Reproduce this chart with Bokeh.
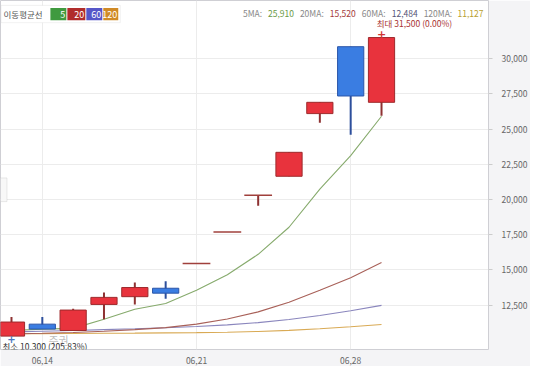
from bokeh.plotting import figure
from bokeh.models import (ColumnDataSource, Range1d, FixedTicker,
                          NumeralTickFormatter, Label, BoxAnnotation)
from bokeh.embed import file_html
from bokeh.resources import INLINE

# ---------------- data ----------------
dates = ["06,13", "06,14", "06,17", "06,18", "06,19", "06,20", "06,21",
         "06,24", "06,25", "06,26", "06,27", "06,28", "07,01"]
opens = [10300, 11150, 10700, 12550, 13100, 13700, 15450, 17700, 20300, 21650, 26100, 30850, 26900]
highs = [11650, 11650, 12250, 13400, 14100, 14200, 15450, 17700, 20300, 23350, 26900, 30850, 31500]
lows = [10300, 10800, 10700, 11500, 12550, 12950, 15450, 17700, 19550, 21650, 25450, 24600, 25950]
closes = [11300, 10800, 12150, 13050, 13750, 13350, 15450, 17700, 20300, 23350, 26900, 27350, 31500]

ma5 = [10700, 10800, 10850, 11500, 12210, 12620, 13550, 14660, 16110, 18030, 20740, 23120, 25910]
ma20 = [10450, 10500, 10560, 10650, 10760, 10900, 11150, 11520, 12020, 12700, 13560, 14450, 15520]
ma60 = [10600, 10650, 10700, 10760, 10820, 10890, 10980, 11100, 11260, 11480, 11760, 12100, 12484]
ma120 = [10470, 10480, 10490, 10500, 10510, 10530, 10550, 10580, 10630, 10710, 10820, 10960, 11127]

tick_dates = ["06,14", "06,21", "06,28"]
y_ticks = [12500, 15000, 17500, 20000, 22500, 25000, 27500, 30000]
ma_names = ["5", "20", "60", "120"]

# ---------------- layout helpers (picture pixel -> data) ----------------
def xd(px):
    return (px - 11) / 30.9

def yd(py):
    return 30000 - (py - 59) * 70.0

KR = "Noto Sans CJK KR"
FS = "8.5px"

idx = list(range(len(dates)))

p = figure(width=530, height=366, output_backend="svg", toolbar_location=None,
           x_range=Range1d(xd(0), xd(489)), y_range=Range1d(yd(354), yd(0)),
           min_border_left=0, min_border_right=41, min_border_top=0,
           min_border_bottom=12, y_axis_location="right")
p.background_fill_color = "white"
p.border_fill_color = "#f4f4f6"
p.outline_line_color = "#cfcfd4"

# axes
p.yaxis.ticker = FixedTicker(ticks=y_ticks)
p.yaxis.formatter = NumeralTickFormatter(format="0,0")
p.yaxis.axis_line_color = None
p.yaxis.major_tick_line_color = "#cccccc"
p.yaxis.major_tick_out = 4
p.yaxis.major_tick_in = 0
p.yaxis.minor_tick_line_color = None
p.yaxis.major_label_text_font_size = FS
p.yaxis.major_label_text_color = "#666666"
p.yaxis.major_label_text_font = KR
p.yaxis.major_label_standoff = 9

tick_idx = [i for i, d in enumerate(dates) if d in tick_dates]
p.xaxis.ticker = FixedTicker(ticks=tick_idx)
p.xaxis.major_label_overrides = {i: dates[i] for i in tick_idx}
p.xaxis.axis_line_color = None
p.xaxis.major_tick_line_color = None
p.xaxis.minor_tick_line_color = None
p.xaxis.major_label_text_font_size = FS
p.xaxis.major_label_text_color = "#666666"
p.xaxis.major_label_text_font = KR
p.xaxis.major_label_standoff = 1

p.xgrid.ticker = FixedTicker(ticks=tick_idx)
p.grid.grid_line_color = "#ececec"

# moving averages (drawn beneath candles)
ma_line_colors = ["#86aa6c", "#a86058", "#8a86bd", "#d9aa55"]
for ser, col in zip([ma120, ma60, ma20, ma5], ma_line_colors[::-1]):
    p.line(idx, ser, line_color=col, line_width=1.1)

# candles
UP_FILL, UP_LINE, UP_WICK = "#e8333d", "#9e2a2c", "#8e3232"
DN_FILL, DN_LINE, DN_WICK = "#3a7de2", "#2a55a8", "#2d4f9c"
body = dict(x=[], top=[], bottom=[], fill=[], line=[])
wick = dict(x=[], hi=[], lo=[], col=[])
doji = dict(x0=[], x1=[], y=[])
for i, (o, h, l, c) in enumerate(zip(opens, highs, lows, closes)):
    up = c >= o
    wick["x"].append(i); wick["hi"].append(h); wick["lo"].append(l)
    wick["col"].append(UP_WICK if up else DN_WICK)
    if o == c:
        doji["x0"].append(i - 0.45); doji["x1"].append(i + 0.45); doji["y"].append(o)
    else:
        body["x"].append(i); body["top"].append(max(o, c)); body["bottom"].append(min(o, c))
        body["fill"].append(UP_FILL if up else DN_FILL)
        body["line"].append(UP_LINE if up else DN_LINE)

p.segment(x0="x", y0="hi", x1="x", y1="lo", line_color="col", line_width=2,
          source=ColumnDataSource(wick))
p.vbar(x="x", width=0.85, top="top", bottom="bottom", fill_color="fill",
       line_color="line", line_width=1, source=ColumnDataSource(body))
p.segment(x0="x0", y0="y", x1="x1", y1="y", line_color="#a0403c", line_width=1.5,
          source=ColumnDataSource(doji))

# max / min annotations
hmax = max(highs); imax = highs.index(hmax)
lmin = min(lows); imin = lows.index(lmin)
last = closes[-1]
p.add_layout(Label(x=imax, y=hmax, y_offset=4, text="+", text_align="center",
                   text_baseline="middle", text_color="#d03535", text_font_size="11px",
                   text_font_style="bold", text_font="DejaVu Sans"))
p.add_layout(Label(x=xd(377), y=yd(23), text=f"최대 {hmax:,} ({(last - hmax) / hmax * 100:.2f}%)",
                   text_align="left", text_baseline="middle", text_color="#a83232",
                   text_font_size=FS, text_font=KR))
p.add_layout(Label(x=imin, y=lmin, y_offset=-3, text="+", text_align="center",
                   text_baseline="middle", text_color="#4a78c0", text_font_size="10px",
                   text_font_style="bold", text_font="DejaVu Sans"))
p.add_layout(Label(x=xd(48), y=yd(344), text="주권", text_align="left",
                   text_baseline="middle", text_color="#a0a0a0", text_alpha=0.7,
                   text_font_size="11px", text_font=KR))
p.add_layout(Label(x=xd(2), y=yd(350), text=f"최소 {lmin:,} ({(last - lmin) / lmin * 100:.2f}%)",
                   text_align="left", text_baseline="middle", text_color="#333333",
                   text_font_size=FS, text_font=KR))

# left scroll handle
p.add_layout(BoxAnnotation(left=xd(0), right=xd(6.5), top=yd(180), bottom=yd(204),
                           fill_color="#f8f8f8", fill_alpha=1, line_color="#bbbbbb", line_width=1))

# header: MA legend box
p.add_layout(BoxAnnotation(left=xd(0.5), right=xd(120), top=yd(5), bottom=yd(22.5),
                           fill_color="white", fill_alpha=1, line_color="#cfcfcf", line_width=1))
p.add_layout(Label(x=xd(3), y=yd(14), text="이동평균선", text_align="left",
                   text_baseline="middle", text_color="#555555", text_font_size=FS,
                   text_font=KR))
box_cols = ["#3f9a3f", "#b02c2c", "#5656c8", "#d08a26"]
box_edges = [50, 67, 86, 103, 119]
for name, col, l, r in zip(ma_names, box_cols, box_edges[:-1], box_edges[1:]):
    p.add_layout(BoxAnnotation(left=xd(l), right=xd(r - 1), top=yd(7.5), bottom=yd(20),
                               fill_color=col, fill_alpha=1, line_color=None))
    p.add_layout(Label(x=xd(r - 2), y=yd(14), text=name, text_align="right",
                       text_baseline="middle", text_color="white", text_font_size="9px",
                       text_font=KR))

# header: MA values
val_cols = ["#6a9a45", "#a33a3a", "#555577", "#b8a030"]
lab_x = [243, 300, 362, 424]
val_x = [268, 330, 392, 458]
for name, ser, col, lx, vx in zip(ma_names, [ma5, ma20, ma60, ma120], val_cols, lab_x, val_x):
    p.add_layout(Label(x=xd(lx), y=yd(13), text=f"{name}MA:", text_align="left",
                       text_baseline="middle", text_color="#888888", text_font_size=FS,
                       text_font=KR))
    p.add_layout(Label(x=xd(vx), y=yd(13), text=f"{ser[-1]:,}", text_align="left",
                       text_baseline="middle", text_color=col, text_font_size=FS,
                       text_font=KR))
p.add_layout(Label(x=xd(499), y=yd(10), text="Linear", text_align="left",
                   text_baseline="middle", text_color="#777777", text_font_size="9.5px",
                   text_font=KR))

open("out.html", "w").write(file_html(p, INLINE))
